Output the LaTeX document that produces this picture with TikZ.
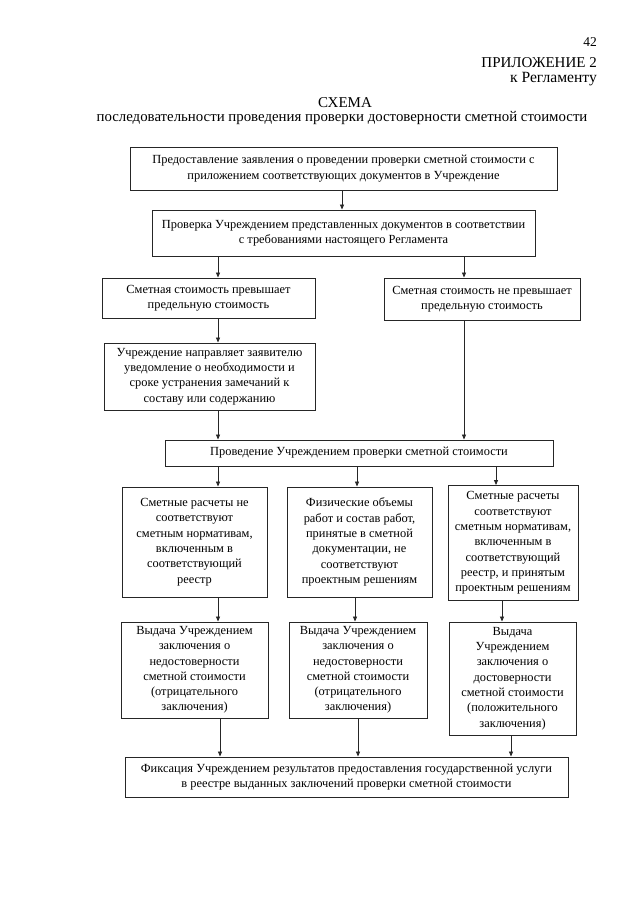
\documentclass[tikz,border=0pt]{standalone}
\usepackage{fontspec}
\setmainfont{Liberation Serif}
\usetikzlibrary{arrows.meta}
\begin{document}
\begin{tikzpicture}[x=1pt,y=-1pt,
  box/.style={draw=black!85,line width=0.9pt,align=center,inner sep=1pt,
    font=\fontsize{12.4}{15.3}\selectfont},
  arr/.style={draw=black!85,line width=0.8pt,-{Triangle[length=5pt,width=4pt]}},
  hdr/.style={inner sep=0pt,font=\fontsize{15}{16}\selectfont}]
\useasboundingbox[fill=white] (0,0) rectangle (640,905);
% header
\node[hdr,anchor=east,font=\fontsize{13.5}{15}\selectfont] (pg) at (597,42) {42};
\node[hdr,anchor=east] (app) at (597,63) {ПРИЛОЖЕНИЕ 2};
\node[hdr,anchor=east,font=\fontsize{15.6}{16}\selectfont] (reg) at (597,79) {к Регламенту};
\node[hdr] (sch) at (345,103) {СХЕМА};
\node[hdr,font=\fontsize{14.85}{16}\selectfont] (sub) at (342,118) {последовательности проведения проверки достоверности сметной стоимости};
% boxes
\node[box,minimum width=427,minimum height=43] (b1) at (343.5,168.5)
  {Предоставление заявления о проведении проверки сметной стоимости с\\приложением соответствующих документов в Учреждение};
\node[box,minimum width=383,minimum height=46] (b2) at (343.5,233)
  {Проверка Учреждением представленных документов в соответствии\\с требованиями настоящего Регламента};
\node[box,minimum width=213,minimum height=40] (b3l) at (208.5,298)
  {Сметная стоимость превышает\\предельную стоимость};
\node[box,minimum width=196,minimum height=42] (b3r) at (482,299)
  {Сметная стоимость не превышает\\предельную стоимость};
\node[box,minimum width=211,minimum height=67] (b4) at (209.5,376.5)
  {Учреждение направляет заявителю\\уведомление о необходимости и\\сроке устранения замечаний к\\составу или содержанию};
\node[box,minimum width=388,minimum height=26] (b5) at (359,453)
  {Проведение Учреждением проверки сметной стоимости};
\node[box,minimum width=145,minimum height=110] (b6a) at (194.5,542)
  {Сметные расчеты не\\соответствуют\\сметным нормативам,\\включенным в\\соответствующий\\реестр};
\node[box,minimum width=145,minimum height=110] (b6b) at (359.5,542)
  {Физические объемы\\работ и состав работ,\\принятые в сметной\\документации, не\\соответствуют\\проектным решениям};
\node[box,minimum width=130,minimum height=115] (b6c) at (513,543)
  {Сметные расчеты\\соответствуют\\сметным нормативам,\\включенным в\\соответствующий\\реестр, и принятым\\проектным решениям};
\node[box,minimum width=147,minimum height=96] (b7a) at (194.5,670)
  {Выдача Учреждением\\заключения о\\недостоверности\\сметной стоимости\\(отрицательного\\заключения)};
\node[box,minimum width=138,minimum height=96] (b7b) at (358,670)
  {Выдача Учреждением\\заключения о\\недостоверности\\сметной стоимости\\(отрицательного\\заключения)};
\node[box,minimum width=127,minimum height=113] (b7c) at (512.5,678.5)
  {Выдача\\Учреждением\\заключения о\\достоверности\\сметной стоимости\\(положительного\\заключения)};
\node[box,minimum width=443,minimum height=40] (b8) at (346.5,777)
  {Фиксация Учреждением результатов предоставления государственной услуги\\в реестре выданных заключений проверки сметной стоимости};
% arrow x positions
\coordinate (xa) at (342,0);
\coordinate (xl) at (218,0);
\coordinate (xr) at (464,0);
\coordinate (xm) at (357,0);
\coordinate (xc) at (496,0);
\coordinate (xmb) at (355,0);
\coordinate (xcb) at (502,0);
\coordinate (xlc) at (220,0);
\coordinate (xmc) at (358,0);
\coordinate (xcc) at (511,0);
% arrows
\draw[arr] (b1.south -| xa) -- (b2.north -| xa);
\draw[arr] (b2.south -| xl) -- (b3l.north -| xl);
\draw[arr] (b2.south -| xr) -- (b3r.north -| xr);
\draw[arr] (b3l.south -| xl) -- (b4.north -| xl);
\draw[arr] (b4.south -| xl) -- (b5.north -| xl);
\draw[arr] (b3r.south -| xr) -- (b5.north -| xr);
\draw[arr] (b5.south -| xl) -- (b6a.north -| xl);
\draw[arr] (b5.south -| xm) -- (b6b.north -| xm);
\draw[arr] (b5.south -| xc) -- (b6c.north -| xc);
\draw[arr] (b6a.south -| xl) -- (b7a.north -| xl);
\draw[arr] (b6b.south -| xmb) -- (b7b.north -| xmb);
\draw[arr] (b6c.south -| xcb) -- (b7c.north -| xcb);
\draw[arr] (b7a.south -| xlc) -- (b8.north -| xlc);
\draw[arr] (b7b.south -| xmc) -- (b8.north -| xmc);
\draw[arr] (b7c.south -| xcc) -- (b8.north -| xcc);
\end{tikzpicture}
\end{document}
